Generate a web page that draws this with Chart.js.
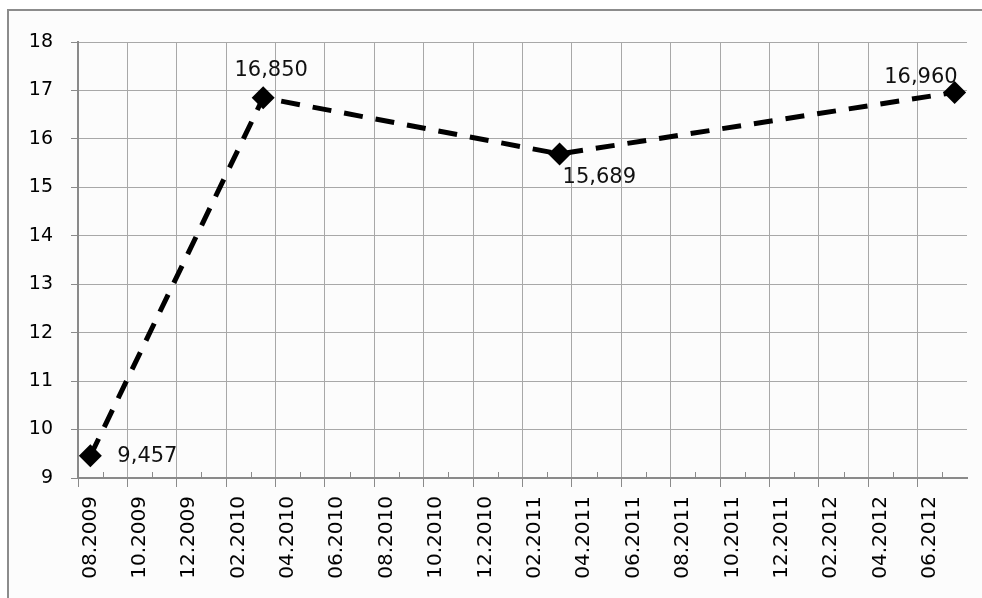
<!DOCTYPE html>
<html>
<head>
<meta charset="utf-8">
<script src="https://cdn.jsdelivr.net/npm/chart.js@4/dist/chart.umd.min.js"></script>
<style>
  html, body { margin: 0; padding: 0; background: #fff; overflow: hidden; }
  canvas { display: block; }
</style>
</head>
<body>
<canvas id="chart" width="982" height="598"></canvas>
<script>
// months on the date axis, 08.2009 .. 07.2012
const months = [
  '08.2009', '09.2009', '10.2009', '11.2009', '12.2009', '01.2010',
  '02.2010', '03.2010', '04.2010', '05.2010', '06.2010', '07.2010',
  '08.2010', '09.2010', '10.2010', '11.2010', '12.2010', '01.2011',
  '02.2011', '03.2011', '04.2011', '05.2011', '06.2011', '07.2011',
  '08.2011', '09.2011', '10.2011', '11.2011', '12.2011', '01.2012',
  '02.2012', '03.2012', '04.2012', '05.2012', '06.2012', '07.2012'
];

// measured values (only four observations)
const obsMonths = ['08.2009', '03.2010', '03.2011', '07.2012'];
const obsValues = [9.457, 16.850, 15.689, 16.960];

const yTicks = [9, 10, 11, 12, 13, 14, 15, 16, 17, 18];

// spread the observations over the month axis
const series = months.map(m => {
  const k = obsMonths.indexOf(m);
  return k >= 0 ? obsValues[k] : null;
});

// where each value label sits relative to its marker
const labelPlace = [
  { dx: 27, dy: 1, align: 'left' },
  { dx: 8, dy: -27, align: 'center' },
  { dx: 3, dy: 24, align: 'left' },
  { dx: 3, dy: -15, align: 'right' }
];

const gridColor = '#a8a8a8';
const axisColor = '#8a8a8a';

// background and the cut-off outer frame of the chart object
const frame = {
  id: 'frame',
  beforeDraw(chart) {
    const ctx = chart.ctx;
    ctx.save();
    ctx.fillStyle = '#fff';
    ctx.fillRect(0, 0, chart.width, chart.height);
    ctx.fillStyle = '#fcfcfc';
    ctx.fillRect(9, 11, chart.width, chart.height);
    ctx.fillStyle = '#8c8c8c';
    ctx.fillRect(7, 9, 2, chart.height);
    ctx.fillRect(7, 9, chart.width - 7, 2);
    ctx.restore();
  }
};

// small inward ticks between the labelled months
const minorTicks = {
  id: 'minorTicks',
  beforeDatasetsDraw(chart) {
    const x = chart.scales.x, area = chart.chartArea, ctx = chart.ctx;
    ctx.save();
    ctx.strokeStyle = axisColor;
    ctx.lineWidth = 1;
    for (let i = 1; i < months.length; i += 2) {
      const px = Math.round((x.getPixelForValue(i) + x.getPixelForValue(i - 1)) / 2) + 0.5;
      ctx.beginPath();
      ctx.moveTo(px, area.bottom);
      ctx.lineTo(px, area.bottom - 6);
      ctx.stroke();
    }
    ctx.restore();
  }
};

// value labels with a decimal comma
const valueLabels = {
  id: 'valueLabels',
  afterDatasetsDraw(chart) {
    const meta = chart.getDatasetMeta(0), ctx = chart.ctx;
    ctx.save();
    ctx.font = '21px "DejaVu Sans"';
    ctx.fillStyle = '#111';
    ctx.textBaseline = 'middle';
    let n = 0;
    meta.data.forEach((pt, i) => {
      const v = series[i];
      if (v === null) return;
      const p = labelPlace[n++];
      ctx.textAlign = p.align;
      ctx.fillText(v.toFixed(3).replace('.', ','), pt.x + p.dx, pt.y + p.dy);
    });
    ctx.restore();
  }
};

new Chart(document.getElementById('chart'), {
  type: 'line',
  data: {
    labels: months,
    datasets: [{
      data: series,
      spanGaps: true,
      borderColor: '#000',
      borderWidth: 5,
      borderDash: [19, 13],
      backgroundColor: '#000',
      pointStyle: 'rectRot',
      pointRadius: 11.5,
      pointHoverRadius: 11.5,
      pointBackgroundColor: '#000',
      pointBorderColor: '#000',
      pointBorderWidth: 0,
      tension: 0,
      clip: false
    }]
  },
  options: {
    responsive: false,
    animation: false,
    events: [],
    layout: { padding: { left: 0, right: 15, top: 42, bottom: 0 } },
    plugins: { legend: { display: false }, tooltip: { enabled: false } },
    scales: {
      x: {
        type: 'category',
        offset: true,
        afterFit(s) { s.height = 120; s.paddingLeft = 0; s.paddingRight = 0; },
        grid: {
          offset: true,
          color: c => (c.index % 2 === 0 ? gridColor : 'rgba(0,0,0,0)'),
          tickColor: c => (c.index % 2 === 0 ? axisColor : 'rgba(0,0,0,0)'),
          tickLength: 9,
          lineWidth: 1
        },
        border: { color: axisColor, width: 2 },
        ticks: {
          autoSkip: false,
          minRotation: 90,
          maxRotation: 90,
          padding: 9,
          color: '#000',
          font: { family: '"DejaVu Sans"', size: 20 },
          callback: (v, i) => (i % 2 === 0 ? months[i] : '')
        }
      },
      y: {
        min: yTicks[0],
        max: yTicks[yTicks.length - 1],
        afterFit(s) { s.width = 78; },
        afterBuildTicks(s) { s.ticks = yTicks.map(v => ({ value: v })); },
        grid: { color: gridColor, tickColor: axisColor, tickLength: 7, lineWidth: 1 },
        border: { color: axisColor, width: 2 },
        ticks: {
          padding: 18,
          color: '#000',
          font: { family: '"DejaVu Sans"', size: 19 }
        }
      }
    }
  },
  plugins: [frame, minorTicks, valueLabels]
});
</script>
</body>
</html>
